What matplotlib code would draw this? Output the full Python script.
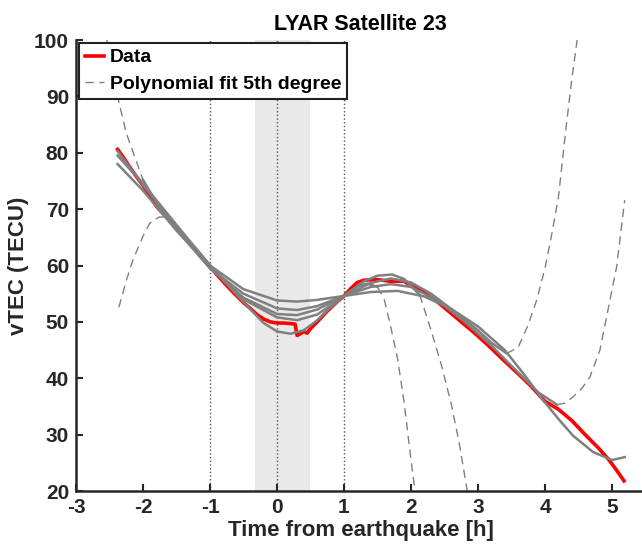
import matplotlib.pyplot as plt

plt.rcParams['font.family'] = ['Liberation Sans', 'DejaVu Sans']
plt.rcParams['font.weight'] = 'bold'
plt.rcParams['axes.unicode_minus'] = False

# Observed vTEC
data_t = [-2.38, -2.3, -2.2, -2.1, -2.0, -1.9, -1.8, -1.7, -1.6, -1.5, -1.4, -1.3,
          -1.2, -1.1, -1.0, -0.9, -0.8, -0.7, -0.6, -0.5, -0.4, -0.3, -0.2, -0.1,
          0.0, 0.1, 0.2, 0.27, 0.3, 0.35, 0.4, 0.45, 0.5, 0.6, 0.7, 0.8, 0.9, 1.0,
          1.1, 1.2, 1.3, 1.5, 1.7, 1.9, 2.0, 2.2, 2.4, 2.6, 2.8, 3.0, 3.2, 3.4,
          3.6, 3.8, 4.0, 4.2, 4.4, 4.6, 4.8, 4.95, 5.05, 5.18]
data_v = [80.6, 79.3, 77.5, 75.8, 74.2, 72.4, 70.5, 69.2, 68.0, 66.7, 65.3, 64.0,
          62.7, 61.3, 59.9, 58.4, 57.1, 55.8, 54.6, 53.4, 52.4, 51.3, 50.5, 50.0,
          49.8, 49.8, 49.7, 49.6, 47.6, 47.9, 48.3, 48.0, 48.8, 50.0, 51.3, 52.5,
          53.6, 54.6, 55.9, 57.0, 57.4, 57.5, 57.2, 57.2, 56.4, 55.2, 53.5, 51.5,
          49.5, 47.5, 45.3, 43.0, 40.8, 38.5, 35.9, 34.5, 32.5, 30.0, 27.6, 25.6,
          24.0, 21.8]

# fit curves: solid part (fit window) and dashed parts (extrapolation)
fit1_t = [-2.38, -2.0, -1.5, -1.0, -0.5, -0.2, 0.0, 0.2, 0.4, 0.6, 0.8, 1.0, 1.2, 1.35, 1.5]
fit1_v = [80.3, 74.3, 66.8, 59.9, 53.5, 49.8, 48.3, 47.9, 48.5, 50.3, 52.6, 54.6, 56.3, 56.8, 56.2]
fit1_ext_t = [1.5, 1.6, 1.7, 1.8, 1.9, 2.0, 2.06]
fit1_ext_v = [56.2, 54.0, 49.0, 43.5, 35.5, 25.5, 20.0]

fit2_t = [-2.38, -2.0, -1.5, -1.0, -0.5, 0.0, 0.3, 0.6, 1.0, 1.3, 1.5, 1.72, 1.9, 2.13]
fit2_v = [79.5, 74.5, 67.2, 60.0, 54.0, 50.8, 50.3, 51.3, 54.6, 57.2, 58.2, 58.4, 57.6, 54.8]
fit2_ext_t = [2.13, 2.3, 2.45, 2.6, 2.72, 2.84]
fit2_ext_v = [54.8, 48.5, 42.5, 35.5, 28.5, 20.0]

fit3_pre_t = [-2.54, -2.45, -2.36, -2.25, -2.1, -2.0]
fit3_pre_v = [100.0, 94.0, 89.0, 83.5, 78.5, 75.2]
fit3_t = [-2.0, -1.8, -1.5, -1.0, -0.5, 0.0, 0.3, 0.6, 1.0, 1.4, 1.7, 2.0, 2.3, 2.6, 3.0, 3.2, 3.43]
fit3_v = [75.2, 71.2, 66.5, 59.5, 54.3, 51.4, 51.2, 52.2, 54.6, 56.9, 57.7, 57.0, 55.0, 52.3, 48.5, 46.3, 44.4]
fit3_ext_t = [3.43, 3.6, 3.75, 3.88, 4.0, 4.1, 4.2, 4.31, 4.4, 4.48]
fit3_ext_v = [44.4, 45.5, 49.5, 54.0, 59.5, 65.5, 72.0, 84.0, 93.0, 100.0]

fit4_pre_t = [-2.36, -2.25, -2.15, -2.0, -1.9, -1.76, -1.66]
fit4_pre_v = [52.6, 57.3, 61.0, 65.2, 67.5, 68.6, 68.6]
fit4_t = [-1.66, -1.5, -1.0, -0.5, 0.0, 0.3, 0.6, 1.0, 1.4, 1.7, 2.0, 2.4, 2.8, 3.2, 3.6, 3.9, 4.18]
fit4_v = [68.6, 66.3, 59.5, 55.0, 52.4, 52.1, 52.8, 54.6, 56.2, 56.7, 56.2, 53.8, 50.0, 45.8, 41.0, 37.5, 35.3]
fit4_ext_t = [4.18, 4.3, 4.42, 4.55, 4.67, 4.82, 4.94, 5.07, 5.19]
fit4_ext_v = [35.3, 35.6, 36.7, 38.2, 40.2, 45.0, 52.1, 59.8, 71.6]

fit5_t = [-2.38, -2.0, -1.5, -1.0, -0.5, 0.0, 0.3, 0.6, 1.0, 1.4, 1.8, 2.2, 2.6,
          3.0, 3.4, 3.7, 3.96, 4.2, 4.42, 4.72, 5.0, 5.19]
fit5_v = [78.0, 73.3, 66.2, 60.0, 55.8, 53.8, 53.6, 53.9, 54.6, 55.3, 55.5, 54.5, 52.3,
          49.2, 45.0, 40.5, 36.3, 32.8, 29.8, 26.9, 25.5, 26.0]

solid_fits = [(fit1_t, fit1_v), (fit2_t, fit2_v), (fit3_t, fit3_v),
              (fit4_t, fit4_v), (fit5_t, fit5_v)]
dashed_fits = [(fit1_ext_t, fit1_ext_v), (fit2_ext_t, fit2_ext_v),
               (fit3_pre_t, fit3_pre_v), (fit3_ext_t, fit3_ext_v),
               (fit4_pre_t, fit4_pre_v), (fit4_ext_t, fit4_ext_v)]

event_lines = [-1, 0, 1]
shade_start, shade_end = -0.33, 0.5

fig = plt.figure(figsize=(6.42, 5.52), dpi=100)
ax = fig.add_axes([0.1184, 0.1105, 0.887, 0.817])

ax.axvspan(shade_start, shade_end, color='#e9e9e9', lw=0, zorder=0)
for t in event_lines:
    ax.axvline(t, color='#555555', lw=1.0, ls=':', zorder=1)

gray = '#808080'
for t, v in dashed_fits:
    ax.plot(t, v, color=gray, lw=1.0, ls=(0, (6, 4)), zorder=2)
for t, v in solid_fits:
    ax.plot(t, v, color=gray, lw=1.8, zorder=3)
ax.plot(data_t, data_v, color='red', lw=2.6, zorder=2.5)

# legend handles
h_data, = ax.plot([], [], color='red', lw=2.6, label='Data')
h_fit, = ax.plot([], [], color=gray, lw=1.0, ls=(0, (6, 4)), label='Polynomial fit 5th degree')
leg = ax.legend(handles=[h_data, h_fit], loc='upper left', fontsize=14,
                frameon=True, fancybox=False, borderaxespad=0.15,
                handlelength=1.0, handletextpad=0.3, labelspacing=0.45,
                borderpad=0.3)
leg.get_frame().set_edgecolor('#222222')
leg.get_frame().set_linewidth(1.5)
leg.get_frame().set_alpha(1)
for txt in leg.get_texts():
    txt.set_fontweight('bold')

ax.set_xlim(-3, 5.5)
ax.set_ylim(20, 100)
ax.set_xticks(range(-3, 6))
ax.set_yticks(range(20, 101, 10))
ax.tick_params(direction='in', length=5, width=1.5, labelsize=15, colors='#262626', pad=5)
for lbl in ax.get_xticklabels() + ax.get_yticklabels():
    lbl.set_fontweight('bold')
for s in ['top', 'right']:
    ax.spines[s].set_visible(False)
for s in ['left', 'bottom']:
    ax.spines[s].set_linewidth(1.8)
    ax.spines[s].set_color('#262626')

ax.set_xlabel('Time from earthquake [h]', fontsize=16, fontweight='bold', color='#262626', labelpad=2)
ax.set_ylabel('vTEC (TECU)', fontsize=16, fontweight='bold', color='#262626', labelpad=4)
ax.set_title('LYAR Satellite 23', fontsize=15.5, fontweight='bold', pad=7)

plt.savefig('out.png', dpi=100)
